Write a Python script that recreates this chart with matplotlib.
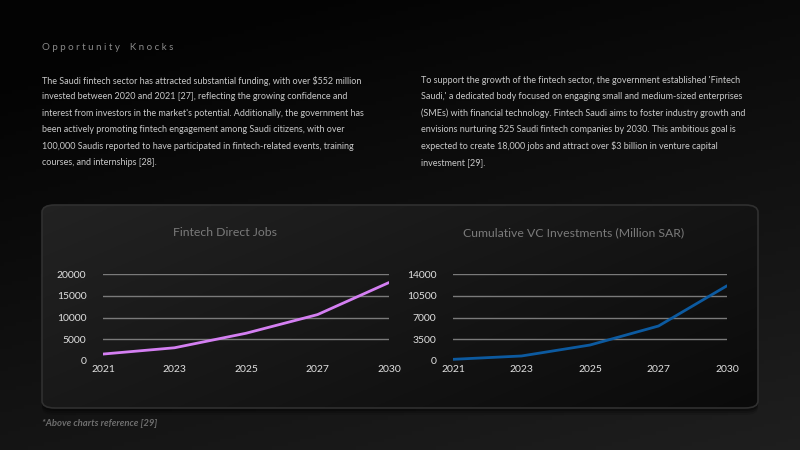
import numpy as np
import matplotlib
matplotlib.use("Agg")
import matplotlib.pyplot as plt
from matplotlib.patches import FancyBboxPatch

plt.rcParams["font.family"] = ["Lato", "DejaVu Sans"]

years = ["2021", "2023", "2025", "2027", "2030"]
jobs = [1600, 3050, 6400, 10700, 18100]
vc_investments = [270, 810, 2580, 5650, 12150]
jobs_ticks = [0, 5000, 10000, 15000, 20000]
vc_ticks = [0, 3500, 7000, 10500, 14000]

heading = "Opportunity Knocks"
left_lines = [
    "The Saudi fintech sector has attracted substantial funding, with over $552 million",
    "invested between 2020 and 2021 [27], reflecting the growing confidence and",
    "interest from investors in the market's potential. Additionally, the government has",
    "been actively promoting fintech engagement among Saudi citizens, with over",
    "100,000 Saudis reported to have participated in fintech-related events, training",
    "courses, and internships [28].",
]
right_lines = [
    "To support the growth of the fintech sector, the government established 'Fintech",
    "Saudi,' a dedicated body focused on engaging small and medium-sized enterprises",
    "(SMEs) with financial technology. Fintech Saudi aims to foster industry growth and",
    "envisions nurturing 525 Saudi fintech companies by 2030. This ambitious goal is",
    "expected to create 18,000 jobs and attract over $3 billion in venture capital",
    "investment [29].",
]

W, H = 800, 450
fig = plt.figure(figsize=(8, 4.5), dpi=100)


def fx(px):
    return px / W


def fy(py):
    return 1 - py / H


# page background: near black at top, dark grey towards bottom right
bg = fig.add_axes([0, 0, 1, 1], zorder=-10)
gx, gy = np.meshgrid(np.linspace(0, 1, 200), np.linspace(0, 1, 120))
t = np.clip(0.75 * gy + 0.35 * gx - 0.15, 0, 1)
shade = 0.015 + 0.11 * t
bg.imshow(np.dstack([shade] * 3), extent=[0, 1, 0, 1], aspect="auto", origin="upper")
bg.set_xlim(0, 1)
bg.set_ylim(0, 1)
bg.axis("off")

# card: shadow, gradient fill, thin edge
x0, y0 = fx(42), fy(408)
cw, ch = fx(758) - fx(42), fy(205) - fy(408)
for off, a in [(7, 0.12), (5, 0.18), (3, 0.25)]:
    sh = FancyBboxPatch((x0, y0 - off / H), cw, ch,
                        boxstyle="round,pad=0,rounding_size=0.016",
                        transform=bg.transAxes, facecolor="black", alpha=a,
                        edgecolor="none", zorder=1)
    bg.add_patch(sh)
card = FancyBboxPatch((x0, y0), cw, ch, boxstyle="round,pad=0,rounding_size=0.016",
                      transform=bg.transAxes, facecolor="none",
                      edgecolor="#303030", linewidth=1.2, zorder=3)
bg.add_patch(card)
cx, cy = np.meshgrid(np.linspace(0, 1, 200), np.linspace(0, 1, 80))
ct = 0.6 * cx + 0.4 * cy
cshade = 0.135 - 0.095 * ct
img = bg.imshow(np.dstack([cshade] * 3), extent=[x0, x0 + cw, y0, y0 + ch],
                aspect="auto", origin="upper", zorder=2)
img.set_clip_path(card)

# text
fig.text(fx(42), fy(48), " ".join(heading).replace("   ", "    "), color="#8a8a8a",
         fontsize=7.0, va="center", ha="left")
for i, line in enumerate(left_lines):
    fig.text(fx(42), fy(80.5 + i * 16.4), line, color="#c9c9c9", fontsize=6.48,
             va="center", ha="left")
for i, line in enumerate(right_lines):
    fig.text(fx(421), fy(80.5 + i * 16.4), line, color="#c9c9c9", fontsize=6.48,
             va="center", ha="left")
fig.text(fx(42), fy(424), "*Above charts reference [29]", color="#6e6e6e",
         fontsize=6.8, style="italic", weight="bold", va="center", ha="left")


def draw_panel(rect, title, title_x, values, ticks, color):
    ax = fig.add_axes(rect)
    ax.set_facecolor("none")
    x = np.arange(len(years))
    ax.plot(x, values, color=color, linewidth=2, solid_capstyle="round", zorder=3)
    ax.set_xlim(0, len(years) - 1)
    ax.set_ylim(ticks[0], ticks[-1])
    ax.set_xticks(x)
    ax.set_xticklabels(years)
    ax.set_yticks(ticks)
    ax.set_yticklabels([str(t) for t in ticks])
    for t in ticks[1:]:
        ax.axhline(t, color="#7a7a7a", linewidth=1, zorder=1)
    for s in ax.spines.values():
        s.set_visible(False)
    ax.tick_params(length=0, colors="#e0e0e0", labelsize=7.5)
    ax.tick_params(axis="x", pad=3)
    ax.tick_params(axis="y", pad=12)
    fig.text(fx(title_x), fy(233), title, color="#7a7a7a", fontsize=8.8,
             ha="center", va="center")
    return ax


draw_panel([fx(103), fy(361), fx(389) - fx(103), fy(274.3) - fy(361)],
           "Fintech Direct Jobs", 225, jobs, jobs_ticks, "#d47ff2")
draw_panel([fx(453), fy(361), fx(727) - fx(453), fy(274.3) - fy(361)],
           "Cumulative VC Investments (Million SAR)", 574, vc_investments, vc_ticks, "#0c5aa0")

fig.savefig("out.png", dpi=100)
